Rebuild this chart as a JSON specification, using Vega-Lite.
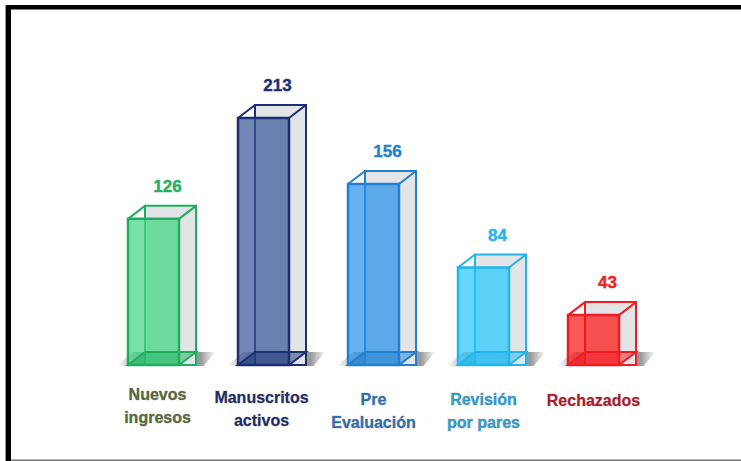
{"$schema":"https://vega.github.io/schema/vega-lite/v6.json","width":741,"height":461,"padding":0,"autosize":{"type":"fit","contains":"padding"},"background":"white","config":{"view":{"stroke":null}},
"data":{"values":[
{"etapa":"Nuevos ingresos","lineas":["Nuevos","ingresos"],"valor":126,"color":"#1fae5f","relleno":"#3fd67e"},
{"etapa":"Manuscritos activos","lineas":["Manuscritos","activos"],"valor":213,"color":"#1c2f73","relleno":"#375696"},
{"etapa":"Pre Evaluación","lineas":["Pre","Evaluación"],"valor":156,"color":"#2180cf","relleno":"#2590e8"},
{"etapa":"Revisión por pares","lineas":["Revisión","por pares"],"valor":84,"color":"#22b4ec","relleno":"#25c8ff"},
{"etapa":"Rechazados","lineas":["Rechazados"],"valor":43,"color":"#f01c24","relleno":"#ff1111"}]},
"encoding":{"x":{"field":"etapa","type":"nominal","sort":null,"axis":null,"scale":{"range":[98.5,648.5],"paddingInner":0,"paddingOuter":0}}},
"layer":[
{"mark":{"type":"point","filled":true,"shape":"M-37 1L50 1L62 -13L-20 -13Z","size":4,"opacity":0.6,"fill":{"x1":0,"x2":1,"y1":0,"y2":0,"gradient":"linear","stops":[{"offset":0,"color":"#ffffff"},{"offset":0.2,"color":"#777777"},{"offset":0.85,"color":"#555555"},{"offset":1,"color":"#ffffff"}]}},"encoding":{"y":{"datum":0,"type":"quantitative","scale":{"domain":[-82.76,314.66],"range":[461,0],"nice":false,"zero":false},"axis":null}}},
{"mark":{"type":"bar","width":51,"xOffset":17,"yOffset":-13,"fill":"#e2e4e6","strokeWidth":2},"encoding":{"y":{"field":"valor","type":"quantitative","axis":null},"y2":{"datum":0},"stroke":{"field":"color","type":"nominal","scale":null}}},
{"mark":{"type":"bar","width":51,"fillOpacity":0.7,"strokeWidth":2.5},"encoding":{"y":{"field":"valor","type":"quantitative"},"y2":{"datum":0},"fill":{"field":"relleno","type":"nominal","scale":null},"stroke":{"field":"color","type":"nominal","scale":null}}},
{"mark":{"type":"point","filled":true,"size":4,"opacity":1,"fillOpacity":0.5,"strokeWidth":2,"shape":"M-25.5 0L-8.5 -13L42.5 -13L25.5 0Z"},"encoding":{"y":{"datum":0,"type":"quantitative"},"fill":{"field":"color","type":"nominal","scale":null},"stroke":{"field":"color","type":"nominal","scale":null}}},
{"mark":{"type":"point","filled":false,"size":4,"opacity":1,"strokeWidth":2,"shape":"M-25.5 0L-8.5 -13M25.5 0L42.5 -13"},"encoding":{"y":{"field":"valor","type":"quantitative"},"stroke":{"field":"color","type":"nominal","scale":null}}},
{"mark":{"type":"text","font":"Liberation Sans","fontWeight":"bold","fontSize":17,"dx":14,"dy":-32,"baseline":"middle","align":"center","strokeOpacity":0.5,"strokeWidth":0.8},"encoding":{"y":{"field":"valor","type":"quantitative"},"text":{"field":"valor","type":"quantitative"},"fill":{"field":"color","type":"nominal","scale":null},"stroke":{"field":"color","type":"nominal","scale":null}}},
{"transform":[{"filter":"datum.valor==126"}],"mark":{"type":"text","font":"Liberation Sans","fontWeight":"bold","fontSize":16,"lineHeight":23,"dx":4,"dy":30,"baseline":"middle","fill":"#5f7040","stroke":"#000000","strokeOpacity":0.18,"strokeWidth":1.2},"encoding":{"y":{"datum":0,"type":"quantitative"},"text":{"field":"lineas"}}},
{"transform":[{"filter":"datum.valor==213"}],"mark":{"type":"text","font":"Liberation Sans","fontWeight":"bold","fontSize":16,"lineHeight":23,"dx":-2,"dy":33,"baseline":"middle","fill":"#1f2f6e","stroke":"#000000","strokeOpacity":0.18,"strokeWidth":1.2},"encoding":{"y":{"datum":0,"type":"quantitative"},"text":{"field":"lineas"}}},
{"transform":[{"filter":"datum.valor==156"}],"mark":{"type":"text","font":"Liberation Sans","fontWeight":"bold","fontSize":16,"lineHeight":23,"dy":35,"baseline":"middle","fill":"#2f78bd","stroke":"#000000","strokeOpacity":0.18,"strokeWidth":1.2},"encoding":{"y":{"datum":0,"type":"quantitative"},"text":{"field":"lineas"}}},
{"transform":[{"filter":"datum.valor==84"}],"mark":{"type":"text","font":"Liberation Sans","fontWeight":"bold","fontSize":16,"lineHeight":23,"dy":35,"baseline":"middle","fill":"#2fa9dc","stroke":"#000000","strokeOpacity":0.18,"strokeWidth":1.2},"encoding":{"y":{"datum":0,"type":"quantitative"},"text":{"field":"lineas"}}},
{"transform":[{"filter":"datum.valor==43"}],"mark":{"type":"text","font":"Liberation Sans","fontWeight":"bold","fontSize":16,"dy":36,"baseline":"middle","fill":"#c01a2e","stroke":"#000000","strokeOpacity":0.18,"strokeWidth":1.2},"encoding":{"y":{"datum":0,"type":"quantitative"},"text":{"field":"lineas"}}},
{"data":{"values":[{}]},"mark":{"type":"rule","color":"#000000","strokeWidth":4.5},"encoding":{"x":{"value":6},"x2":{"value":741},"y":{"value":7.2}}},
{"data":{"values":[{}]},"mark":{"type":"rule","color":"#000000","strokeWidth":5},"encoding":{"x":{"value":8.5},"y":{"value":5},"y2":{"value":461}}},
{"data":{"values":[{}]},"mark":{"type":"rule","color":"#999999","strokeWidth":1},"encoding":{"x":{"value":5.5},"y":{"value":5},"y2":{"value":461}}},
{"data":{"values":[{}]},"mark":{"type":"rule","color":"#777777","strokeWidth":1.6},"encoding":{"x":{"value":11},"x2":{"value":741},"y":{"value":460.2}}}
]}
